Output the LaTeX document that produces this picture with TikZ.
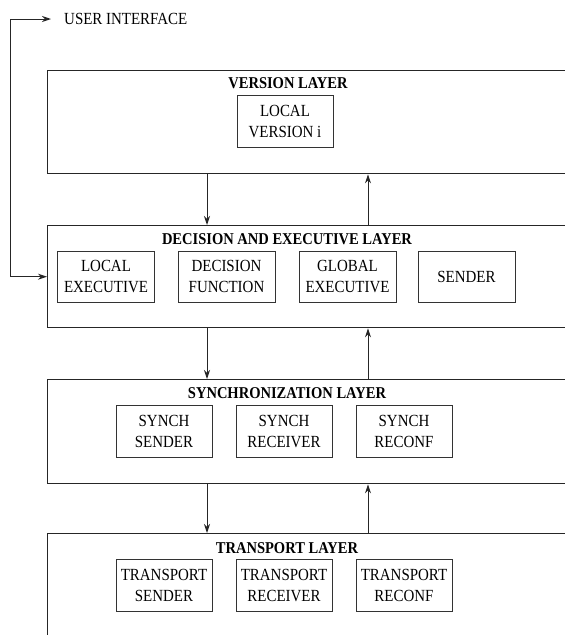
\documentclass[tikz,border=0pt]{standalone}
\usepackage{fontspec}
\setmainfont{Liberation Serif}[FakeStretch=0.88]
\usetikzlibrary{arrows.meta}
\begin{document}
\begin{tikzpicture}[x=1pt,y=-1pt,
  layerbox/.style={draw=black!85, line width=1.4pt, rectangle, anchor=north west, inner sep=0pt},
  unitbox/.style={draw=black!80, line width=0.9pt, rectangle, align=center, inner sep=0pt,
     minimum width=96pt, minimum height=52pt, font=\fontsize{17}{21}\selectfont},
  titletext/.style={font=\fontsize{16.5}{18}\selectfont\bfseries, inner sep=0pt},
  arr/.style={line width=1pt, draw=black!85, -{Stealth[length=9pt,width=6pt]}}]
\useasboundingbox (0,0) rectangle (565,635);
\clip (0,0) rectangle (565,635);
\fill[white] (0,0) rectangle (565,635);
% layers
\node[layerbox, minimum width=580pt, minimum height=103pt] (version) at (47,70) {};
\node[layerbox, minimum width=580pt, minimum height=102pt] (decision) at (47,225) {};
\node[layerbox, minimum width=580pt, minimum height=104pt] (synch) at (47,379) {};
\node[layerbox, minimum width=580pt, minimum height=140pt] (transport) at (47,533) {};
% titles
\node[titletext] (vtitle) at (288,83) {VERSION LAYER};
\node[titletext] (dtitle) at (287,239) {DECISION AND EXECUTIVE LAYER};
\node[titletext] (stitle) at (287,393) {SYNCHRONIZATION LAYER};
\node[titletext] (ttitle) at (287,548) {TRANSPORT LAYER};
% units
\node[unitbox] (lv) at (285,121) {LOCAL\\VERSION i};
\node[unitbox, minimum width=97pt, minimum height=51pt] (le) at (106,276.5) {LOCAL\\EXECUTIVE};
\node[unitbox, minimum width=97pt, minimum height=51pt] (df) at (226.5,276.5) {DECISION\\FUNCTION};
\node[unitbox, minimum width=97pt, minimum height=51pt] (ge) at (347.5,276.5) {GLOBAL\\EXECUTIVE};
\node[unitbox, minimum width=97pt, minimum height=51pt] (se) at (466.5,276.5) {SENDER};
\node[unitbox] (ss) at (164,431) {SYNCH\\SENDER};
\node[unitbox] (sr) at (284,431) {SYNCH\\RECEIVER};
\node[unitbox] (sc) at (404,431) {SYNCH\\RECONF};
\node[unitbox] (ts) at (164,585) {TRANSPORT\\SENDER};
\node[unitbox] (tr) at (284,585) {TRANSPORT\\RECEIVER};
\node[unitbox] (tc) at (404,585) {TRANSPORT\\RECONF};
% user interface
\node[anchor=west, inner sep=0pt, font=\fontsize{17}{19}\selectfont] (ui) at (64,19) {USER INTERFACE};
\coordinate (uicorner) at (10,19);
\coordinate (uitip) at (51,19);
\draw[arr] (uicorner) -- (uitip);
\draw[arr] (uicorner) |- (decision.west);
% vertical connectors
\coordinate (down) at (207,0);
\coordinate (up) at (368,0);
\draw[arr] (version.south -| down) -- (decision.north -| down);
\draw[arr] (decision.north -| up) -- (version.south -| up);
\draw[arr] (decision.south -| down) -- (synch.north -| down);
\draw[arr] (synch.north -| up) -- (decision.south -| up);
\draw[arr] (synch.south -| down) -- (transport.north -| down);
\draw[arr] (transport.north -| up) -- (synch.south -| up);
\end{tikzpicture}
\end{document}
